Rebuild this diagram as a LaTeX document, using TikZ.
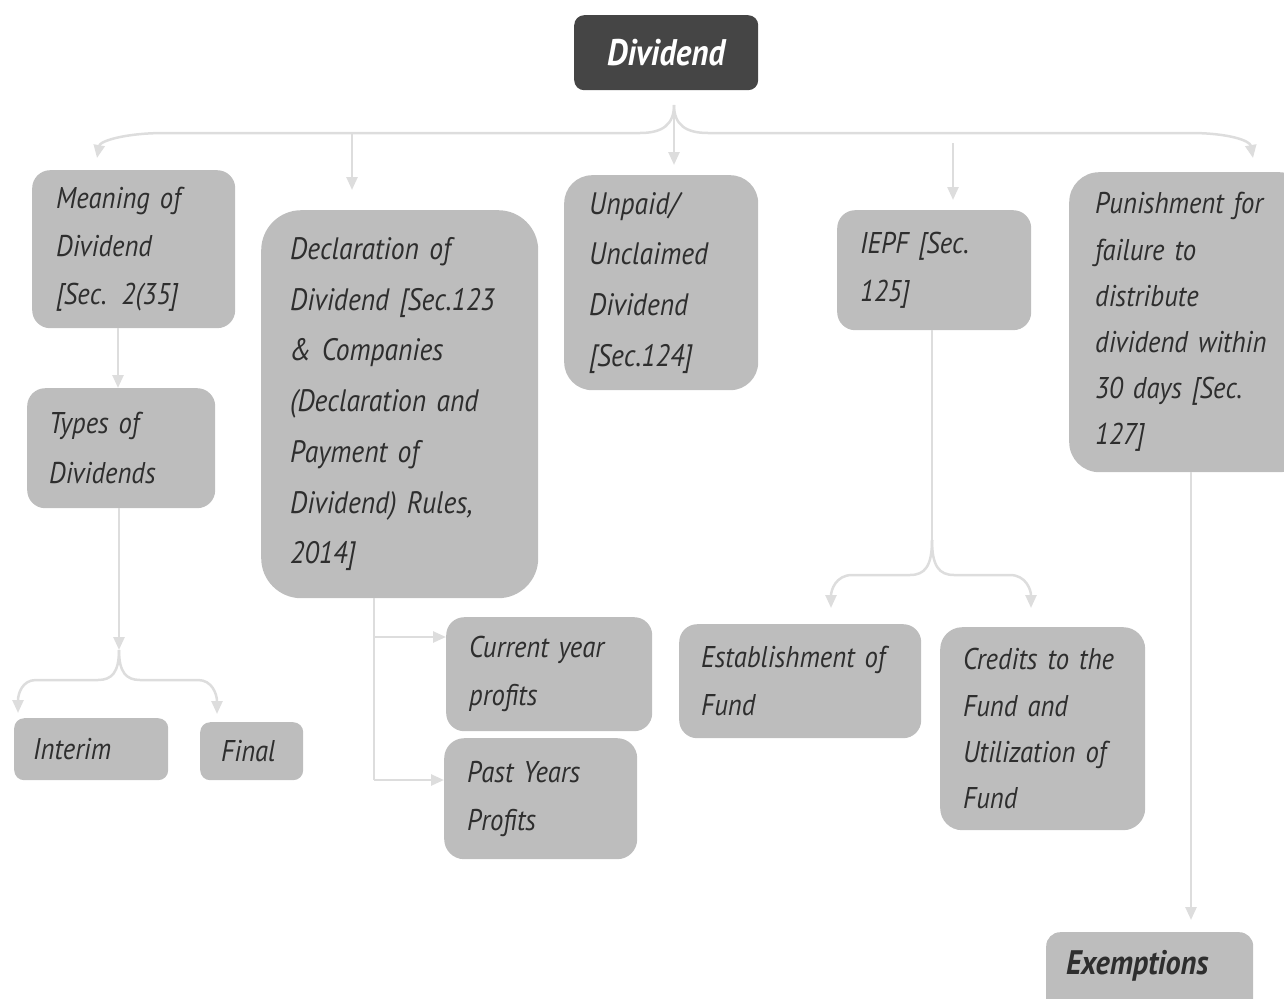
\documentclass[tikz,border=0pt]{standalone}
\usepackage{fontspec}
\setmainfont{PT Sans}[FakeStretch=0.89]
\usetikzlibrary{arrows.meta}
\definecolor{boxgray}{HTML}{BDBDBD}
\definecolor{txtgray}{HTML}{2E2E2E}
\definecolor{linegray}{HTML}{DDDDDD}
\definecolor{rootgray}{HTML}{454545}
\begin{document}
\begin{tikzpicture}[x=1pt,y=-1pt,
  box/.style={fill=boxgray, text=txtgray, rounded corners=18pt, anchor=north west,
    inner xsep=24pt, inner ysep=0pt, align=left,
    font=\fontsize{30}{48}\selectfont\itshape},
  conn/.style={draw=linegray, line width=2.5pt, -{Triangle[length=13pt,width=11pt]}},
  plainline/.style={draw=linegray, line width=2.5pt}]
\useasboundingbox (0,0) rectangle (1284,998);
\clip (0,0) rectangle (1284,998);

% nodes
\node[box, fill=rootgray, text=white, rounded corners=10pt, minimum width=184pt,
  minimum height=75pt, align=center, inner xsep=0pt,
  font=\fontsize{37}{40}\selectfont\bfseries\itshape] (root) at (574,15) {Dividend};
\node[box, text width=155pt, minimum height=158pt] (mean) at (32,170)
  {Meaning of\\Dividend\\{[}Sec. 2(35]};
\node[box, inner xsep=22pt, text width=144pt, minimum height=120pt,
  font=\fontsize{30}{50}\selectfont\itshape] (types) at (27,388)
  {Types of\\Dividends};
\node[box, inner xsep=29pt, text width=219pt, minimum height=388pt, rounded corners=40pt,
  font=\fontsize{31}{50.7}\selectfont\itshape] (decl) at (261,210)
  {Declaration of\\Dividend {[}Sec.123\\\& Companies\\(Declaration and\\Payment of\\Dividend) Rules,\\2014]};
\node[box, inner xsep=25pt, text width=144pt, minimum height=215pt, rounded corners=28pt,
  font=\fontsize{31}{50.7}\selectfont\itshape] (unpaid) at (564,175)
  {Unpaid/\\Unclaimed\\Dividend\\{[}Sec.124]};
\node[box, inner xsep=23pt, text width=148pt, minimum height=120pt] (iepf) at (837,210)
  {IEPF {[}Sec.\\125]};
\node[box, inner xsep=26pt, text width=188pt, minimum height=300pt, rounded corners=30pt,
  font=\fontsize{30}{46.2}\selectfont\itshape] (pun) at (1069,172)
  {Punishment for\\failure to\\distribute\\dividend within\\30 days {[}Sec.\\127]};
\node[box, inner xsep=19pt, text width=116pt, minimum height=62pt, rounded corners=10pt] (interim) at (14,718)
  {Interim};
\node[box, inner xsep=21pt, text width=61pt, minimum height=58pt, rounded corners=10pt] (final) at (200,722)
  {Final};
\node[box, inner xsep=23pt, text width=160pt, minimum height=114pt] (cur) at (446,617)
  {Current year\\profits};
\node[box, inner xsep=23pt, text width=147pt, minimum height=121pt, rounded corners=20pt] (past) at (444,738)
  {Past Years\\Profits};
\node[box, inner xsep=22pt, text width=198pt, minimum height=114pt] (est) at (679,624)
  {Establishment of\\Fund};
\node[box, inner xsep=23pt, text width=159pt, minimum height=203pt, rounded corners=22pt,
  font=\fontsize{30}{46.2}\selectfont\itshape] (cred) at (940,627)
  {Credits to the\\Fund and\\Utilization of\\Fund};
\node[box, text width=159pt, minimum height=120pt, rounded corners=14pt] (ex) at (1046,932) {};
\node[anchor=base west, text=txtgray, inner sep=0pt,
  font=\fontsize{34}{40}\selectfont\bfseries\itshape] (exlbl) at (1066,974) {Exemptions};

% root connectors
\coordinate (rp) at (674,105);
\draw[conn] (rp) .. controls (674,125) and (662,133) .. (640,133) -- (165,133)
  .. controls (125,133) and (100,141) .. ([xshift=65pt,yshift=12pt]mean.north west);
\draw[conn] (rp) .. controls (674,125) and (686,133) .. (708,133) -- (1190,133)
  .. controls (1230,133) and (1250,141) .. ([xshift=184pt,yshift=14pt]pun.north west);
\draw[conn, shorten >=10pt] (rp) -- (rp |- unpaid.north);
\coordinate (d0) at (352,133);
\draw[conn, shorten >=20pt] (d0) -- (d0 |- decl.north);
\coordinate (i0) at (953,143);
\draw[conn, shorten >=10pt] (i0) -- (i0 |- iepf.north);

% meaning -> types
\coordinate (mt) at (118,0);
\draw[conn] (mt |- mean.south) -- (mt |- types.north);

% types -> interim / final
\coordinate (tb) at (119,650);
\draw[conn] (tb |- types.south) -- (tb);
\draw[conn] (tb) .. controls (119,672) and (112,680) .. (98,680) -- (36,680)
  .. controls (22,680) and (18,694) .. ([xshift=4pt,yshift=5pt]interim.north west);
\draw[conn] (tb) .. controls (119,672) and (126,680) .. (140,680) -- (198,680)
  .. controls (212,680) and (217,694) .. ([xshift=17pt,yshift=8pt]final.north west);

% declaration -> current / past
\coordinate (dv) at (374,0);
\coordinate (c1) at (374,637);
\coordinate (c2) at (374,780);
\draw[plainline] (dv |- decl.south) -- (c2);
\draw[conn] (c1) -- (c1 -| cur.west);
\draw[conn] (c2) -- (c2 -| past.west);

% iepf -> establishment / credits
\coordinate (iv) at (932,0);
\coordinate (ib) at (932,540);
\draw[plainline] (iv |- iepf.south) -- (ib);
\draw[conn] (ib) .. controls (932,566) and (925,575) .. (910,575) -- (852,575)
  .. controls (836,575) and (831,590) .. ([xshift=152pt,yshift=16pt]est.north west);
\draw[conn] (ib) .. controls (932,566) and (939,575) .. (954,575) -- (1010,575)
  .. controls (1026,575) and (1031,590) .. ([xshift=91pt,yshift=19pt]cred.north west);

% punishment -> exemptions
\coordinate (pe) at (1191,0);
\draw[conn, shorten >=12pt] (pe |- pun.south) -- (pe |- ex.north);
\end{tikzpicture}
\end{document}
